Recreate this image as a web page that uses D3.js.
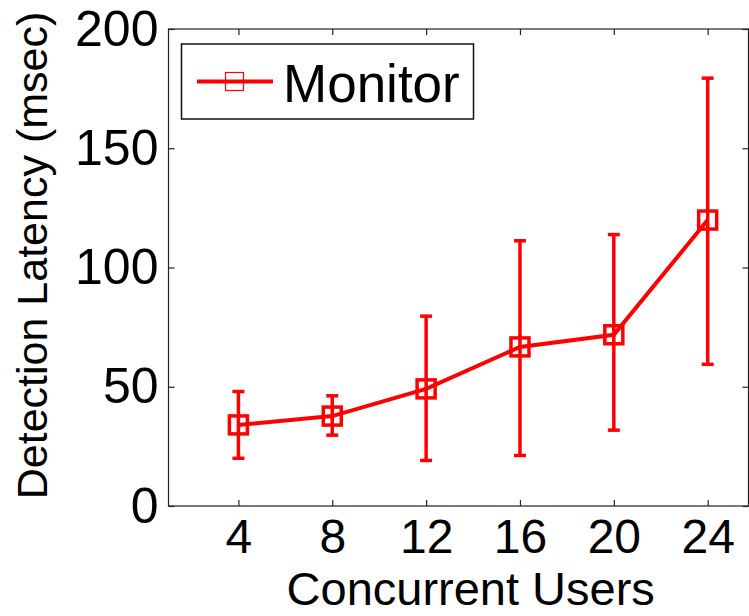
<!DOCTYPE html>
<html>
<head>
<meta charset="utf-8">
<script src="https://cdn.jsdelivr.net/npm/d3@7"></script>
<style>
  body { margin: 0; background: #fff; }
  svg { display: block; font-family: "Liberation Sans", Arial, sans-serif; }
</style>
</head>
<body>
<div id="chart"></div>
<script>
// data
const users = [4, 8, 12, 16, 20, 24];
const latency = [34, 37.7, 49.1, 66.7, 71.8, 119.9];
const errLow = [14, 8, 30, 45.5, 40, 60.5];
const errHigh = [14, 8.5, 30.5, 44.5, 42, 59.5];
const xTicks = [4, 8, 12, 16, 20, 24];
const yTicks = [0, 50, 100, 150, 200];
const seriesName = "Monitor";

const W = 749, H = 616;
const margin = {top: 29, right: 0.5, bottom: 110, left: 168.5};
const width = W - margin.left - margin.right,
  height = H - margin.top - margin.bottom;

const svg = d3.select("#chart")
  .append("svg")
    .attr("width", W)
    .attr("height", H);

const g = svg.append("g")
  .attr("transform", `translate(${margin.left},${margin.top})`);

const x = d3.scaleLinear().domain([1.02, 25.74]).range([0, width]);
const y = d3.scaleLinear().domain([0, 200]).range([height, 0]);

const red = "#ff0000";

// frame
g.append("rect")
  .attr("width", width).attr("height", height)
  .attr("fill", "none").attr("stroke", "#222").attr("stroke-width", 1.2);

// axes with inward ticks
const xAxis = g.append("g")
  .attr("transform", `translate(0,${height})`)
  .call(d3.axisBottom(x).tickValues(xTicks).tickSize(-6).tickPadding(13));
const yAxis = g.append("g")
  .call(d3.axisLeft(y).tickValues(yTicks).tickSize(-6).tickPadding(10));
// mirrored ticks on top and right
g.append("g")
  .call(d3.axisTop(x).tickValues(xTicks).tickSize(-6).tickFormat(""));
g.append("g")
  .attr("transform", `translate(${width},0)`)
  .call(d3.axisRight(y).tickValues(yTicks).tickSize(-6).tickFormat(""));

g.selectAll(".domain").remove();
g.selectAll(".tick line").attr("stroke", "#222").attr("stroke-width", 1.2);

xAxis.selectAll("text")
  .attr("dy", "0.71em")
  .style("font-size", "48px")
  .style("font-family", "Liberation Sans, Arial, sans-serif")
  .attr("fill", "#000");
yAxis.selectAll("text")
  .style("font-size", "50px")
  .style("font-family", "Liberation Sans, Arial, sans-serif")
  .attr("fill", "#000");

// axis titles
svg.append("text")
  .attr("x", margin.left + x(13.9))
  .attr("y", 605)
  .attr("text-anchor", "middle")
  .style("font-size", "47px")
  .text("Concurrent Users");

svg.append("text")
  .attr("transform", `translate(47,${margin.top + y(100) - 12}) rotate(-90)`)
  .attr("text-anchor", "middle")
  .style("font-size", "43px")
  .text("Detection Latency (msec)");

// error bars
const capW = 6;
const eb = g.selectAll(".err")
  .data(users)
  .join("g");
eb.append("line")
  .attr("x1", d => x(d)).attr("x2", d => x(d))
  .attr("y1", (d, i) => y(latency[i] - errLow[i]))
  .attr("y2", (d, i) => y(latency[i] + errHigh[i]))
  .attr("stroke", red).attr("stroke-width", 3.5);
eb.append("line")
  .attr("x1", d => x(d) - capW).attr("x2", d => x(d) + capW)
  .attr("y1", (d, i) => y(latency[i] - errLow[i]))
  .attr("y2", (d, i) => y(latency[i] - errLow[i]))
  .attr("stroke", red).attr("stroke-width", 3.5);
eb.append("line")
  .attr("x1", d => x(d) - capW).attr("x2", d => x(d) + capW)
  .attr("y1", (d, i) => y(latency[i] + errHigh[i]))
  .attr("y2", (d, i) => y(latency[i] + errHigh[i]))
  .attr("stroke", red).attr("stroke-width", 3.5);

// line
const line = d3.line()
  .x(d => x(d[0]))
  .y(d => y(d[1]));
g.append("path")
  .datum(users.map((u, i) => [u, latency[i]]))
  .attr("d", line)
  .attr("fill", "none")
  .attr("stroke", red)
  .attr("stroke-width", 4);

// square markers
const ms = 18;
g.selectAll(".marker")
  .data(users)
  .join("rect")
    .attr("x", d => x(d) - ms / 2)
    .attr("y", (d, i) => y(latency[i]) - ms / 2)
    .attr("width", ms).attr("height", ms)
    .attr("fill", "none")
    .attr("stroke", red)
    .attr("stroke-width", 3.5);

// legend
const leg = svg.append("g");
leg.append("rect")
  .attr("x", 181.5).attr("y", 44)
  .attr("width", 292).attr("height", 75)
  .attr("fill", "#fff").attr("stroke", "#111").attr("stroke-width", 1.5);
leg.append("line")
  .attr("x1", 197).attr("x2", 273).attr("y1", 81.5).attr("y2", 81.5)
  .attr("stroke", red).attr("stroke-width", 4);
leg.append("rect")
  .attr("x", 225.5).attr("y", 72.5).attr("width", 18).attr("height", 18)
  .attr("fill", "none").attr("stroke", red).attr("stroke-width", 1.2);
leg.append("text")
  .attr("x", 283).attr("y", 102)
  .style("font-size", "53px")
  .text(seriesName);
</script>
</body>
</html>
